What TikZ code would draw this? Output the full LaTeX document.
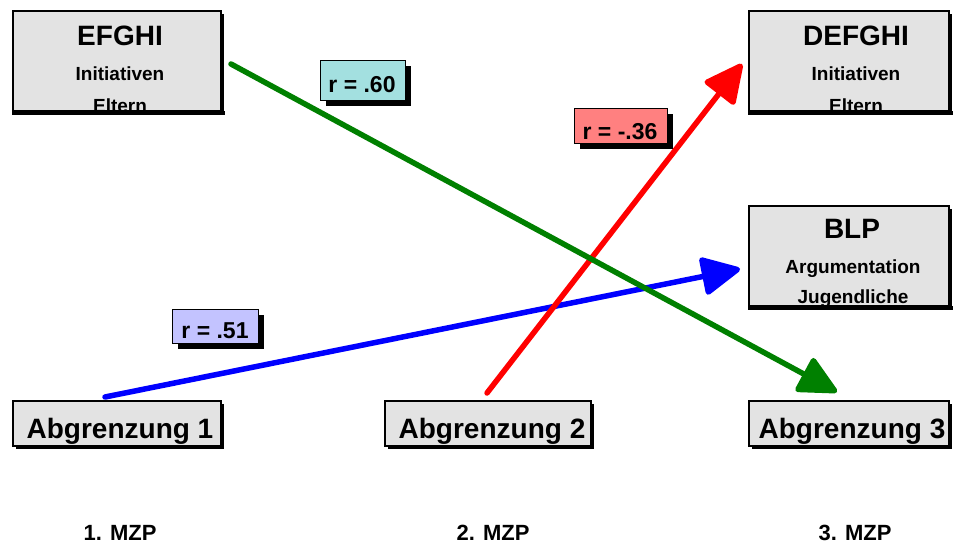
\documentclass[tikz,border=0pt]{standalone}
\usepackage{fontspec}
\setmainfont{Liberation Sans}
\usetikzlibrary{arrows.meta,shadows,calc}
\definecolor{boxgray}{HTML}{E3E3E3}
\definecolor{rcyan}{HTML}{A3E0E0}
\definecolor{rred}{HTML}{FF8080}
\definecolor{rblue}{HTML}{C3C3FF}
\definecolor{dgreen}{HTML}{008000}
\begin{document}
\begin{tikzpicture}[x=1pt,y=-1pt,
  box/.style={draw=black, line width=1.8pt, fill=boxgray, anchor=north west, inner sep=0pt,
    general shadow={fill=black, shadow xshift=3pt, shadow yshift=-3pt}},
  rbox/.style={draw=black, line width=1pt, anchor=north west, inner sep=0pt,
    general shadow={fill=black, shadow xshift=5pt, shadow yshift=-5pt}},
  big/.style={font=\fontsize{28}{30}\selectfont\bfseries, anchor=base, inner sep=0pt},
  small/.style={font=\fontsize{19}{21}\selectfont\bfseries, anchor=base, inner sep=0pt},
  rtxt/.style={font=\fontsize{23}{25}\selectfont\bfseries, anchor=base, inner sep=0pt},
  mzp/.style={font=\fontsize{22}{24}\selectfont\bfseries, anchor=base, inner sep=0pt},
  conn/.style={line width=5.5pt, line cap=round, -{Triangle[length=42pt,width=40pt,round]}},
  edge/.style={line width=4pt}]
\fill[white] (0,0) rectangle (954,544);
\useasboundingbox (0,0) rectangle (954,544);

% boxes
\node[box, minimum width=208pt, minimum height=100pt] (efghi) at (12,10) {};
\node[box, minimum width=200pt, minimum height=100pt] (defghi) at (748,10) {};
\node[box, minimum width=200pt, minimum height=100pt] (blp) at (748,205) {};
\node[box, minimum width=208pt, minimum height=45pt] (ab1) at (12,400) {};
\node[box, minimum width=206pt, minimum height=45pt] (ab2) at (384,400) {};
\node[box, minimum width=200pt, minimum height=45pt] (ab3) at (748,400) {};

% texts
\node[big] (t1) at (120,45) {EFGHI};
\node[small] (t2) at (120,80) {Initiativen};
\node[small] (t3) at (120,112) {Eltern};
\node[big] (t4) at (856,45) {DEFGHI};
\node[small] (t5) at (856,80) {Initiativen};
\node[small] (t6) at (856,112) {Eltern};
\node[big] (t7) at (852,238) {BLP};
\node[small] (t8) at (853,273) {Argumentation};
\node[small] (t9) at (853,303) {Jugendliche};
\node[big] (t10) at (120,438) {Abgrenzung 1};
\node[big] (t11) at (492,438) {Abgrenzung 2};
\node[big] (t12) at (852,438) {Abgrenzung 3};

% redraw bottom edges over clipped text
\draw[edge] ($(efghi.south west)+(0,1.5)$) -- ($(efghi.south east)+(3,1.5)$);
\draw[edge] ($(defghi.south west)+(0,1.5)$) -- ($(defghi.south east)+(3,1.5)$);
\draw[edge] ($(blp.south west)+(0,1.5)$) -- ($(blp.south east)+(3,1.5)$);

% MZP labels
\node[mzp] (m1) at (120,540) {1. MZP};
\node[mzp] (m2) at (493,540) {2. MZP};
\node[mzp] (m3) at (855,540) {3. MZP};

% connector end points
\coordinate (gs) at (231,64);
\coordinate (ge) at (837,392);
\coordinate (bs) at (105,397);
\coordinate (be) at (740,269);
\coordinate (rs) at (487,393);
\coordinate (re) at (742,64);

\draw[conn, blue] (bs) -- (be);
\draw[conn, red] (rs) -- (re);
\draw[conn, dgreen] (gs) -- (ge);

% r labels
\node[rbox, fill=rcyan, minimum width=85pt, minimum height=40pt] (r1) at (320,60) {};
\node[rtxt] at (362,92) {r = .60};
\node[rbox, fill=rred, minimum width=93pt, minimum height=35pt] (r2) at (574,108) {};
\node[rtxt] at (620,139) {r = -.36};
\node[rbox, fill=rblue, minimum width=86pt, minimum height=34pt] (r3) at (172,309) {};
\node[rtxt] at (215,338) {r = .51};
\end{tikzpicture}
\end{document}
